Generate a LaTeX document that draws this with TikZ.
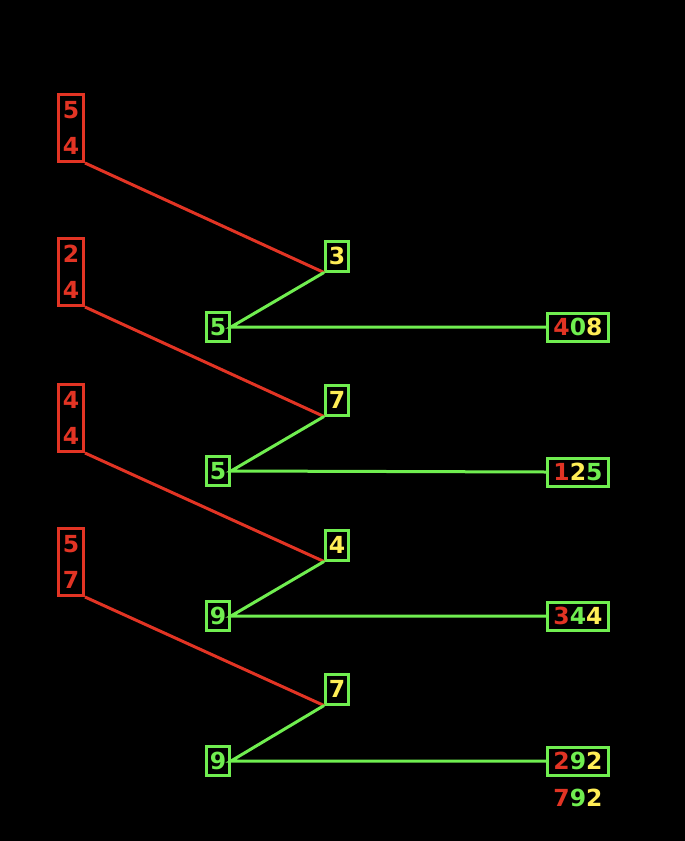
\documentclass[tikz,border=0pt]{standalone}
\usepackage{fontspec}
\setmainfont{DejaVu Sans}
\usetikzlibrary{positioning}

\definecolor{dred}{RGB}{226,52,36}
\definecolor{dgreen}{RGB}{112,238,80}
\definecolor{dyellow}{RGB}{255,238,86}

\begin{document}
\begin{tikzpicture}[
			x=1pt,y=-1pt,
			font=\bfseries\fontsize{23.5}{36}\selectfont,
			line width=3pt,
			carry/.style={
				rectangle,draw=dred,text=dred,align=center,
				minimum width=25pt,minimum height=67pt,
				inner sep=0pt
			},
			digit/.style={
				rectangle,draw=dgreen,text=dyellow,
				minimum width=23pt,minimum height=30pt,
				inner sep=0pt
			},
			factor/.style={
				rectangle,draw=dgreen,text=dgreen,
				minimum width=23pt,minimum height=29pt,
				inner sep=0pt
			},
			result/.style={
				rectangle,draw=dgreen,
				minimum width=61pt,minimum height=28pt,
				inner sep=0pt
			},
			redline/.style={dred},
			greenline/.style={dgreen}
			]
			
			\fill[black] (0,0) rectangle (685,841);
			
			% first row
			\node[carry] (c1) at (71,128) {5\\4};
			\node[digit] (d1) at (337,256) {3};
			\node[factor] (f1) at (218,327) {5};
			\node[result] (r1) at (578,327)
			{\textcolor{dred}{4}\textcolor{dgreen}{0}\textcolor{dyellow}{8}};
			
			% second row
			\node[carry] (c2) at (71,272) {2\\4};
			\node[digit] (d2) at (337,400) {7};
			\node[factor] (f2) at (218,471) {5};
			\node[result] (r2) at (578,472)
			{\textcolor{dred}{1}\textcolor{dyellow}{2}\textcolor{dgreen}{5}};
			
			% third row
			\node[carry] (c3) at (71,418) {4\\4};
			\node[digit] (d3) at (337,545) {4};
			\node[factor] (f3) at (218,616) {9};
			\node[result] (r3) at (578,616)
			{\textcolor{dred}{3}\textcolor{dgreen}{4}\textcolor{dyellow}{4}};
			
			% fourth row
			\node[carry] (c4) at (71,562) {5\\7};
			\node[digit] (d4) at (337,689) {7};
			\node[factor] (f4) at (218,761) {9};
			\node[result] (r4) at (578,761)
			{\textcolor{dred}{2}\textcolor{dgreen}{9}\textcolor{dyellow}{2}};
			
			\node[below=11pt of r4,inner sep=0pt] (total)
			{\textcolor{dred}{7}\textcolor{dgreen}{9}\textcolor{dyellow}{2}};
			
			\draw[redline] (c1.south east) -- (d1.south west);
			\draw[redline] (c2.south east) -- (d2.south west);
			\draw[redline] (c3.south east) -- (d3.south west);
			\draw[redline] (c4.south east) -- (d4.south west);
			
			\draw[greenline] (d1.south west) -- (f1.east) -- (r1.west);
			\draw[greenline] (d2.south west) -- (f2.east) -- (r2.west);
			\draw[greenline] (d3.south west) -- (f3.east) -- (r3.west);
			\draw[greenline] (d4.south west) -- (f4.east) -- (r4.west);
			
		\end{tikzpicture}
\end{document}
